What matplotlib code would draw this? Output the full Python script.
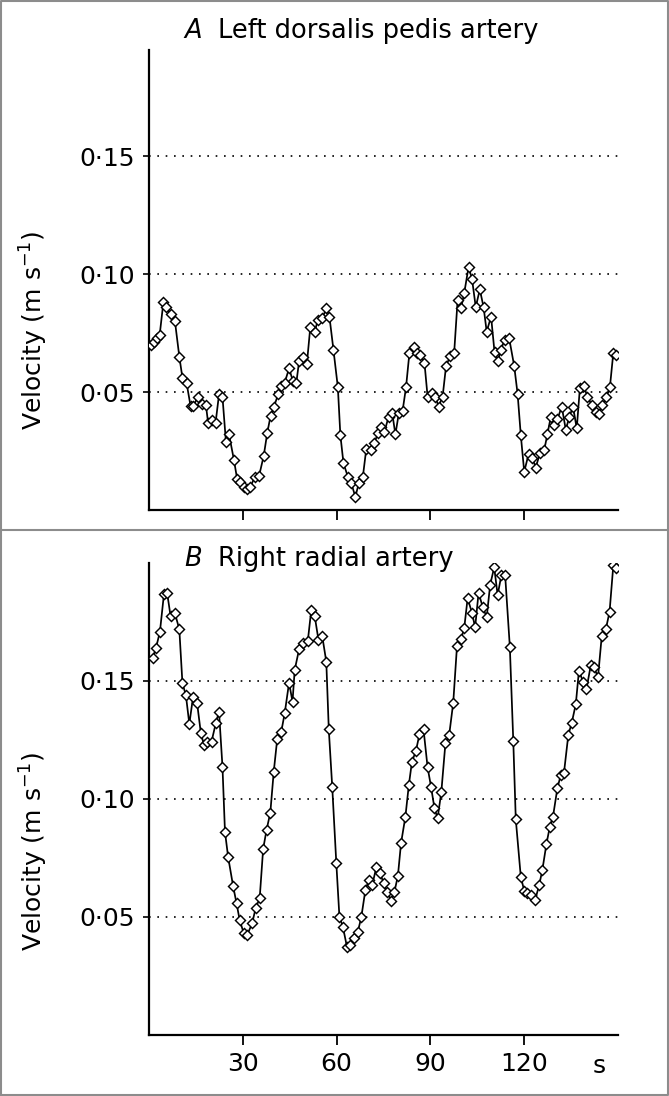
import matplotlib.pyplot as plt
from matplotlib.lines import Line2D

plt.rcParams['font.family'] = ['DejaVu Sans']

# panel A - left dorsalis pedis artery (time s, velocity m/s)
t_a = [0.6, 1.5, 2.5, 3.4, 4.6, 5.6, 6.9, 8.3, 9.7, 10.7, 12.0, 13.3, 14.1, 15.7, 16.8,
       18.2, 18.9, 20.2, 21.3, 22.4, 23.5, 24.6, 25.6, 27.2, 28.2, 29.2, 30.3, 31.4, 32.4,
       33.8, 35.2, 36.7, 37.8, 38.9, 39.9, 41.3, 42.3, 43.4, 44.8, 46.0, 47.1, 48.0, 49.2,
       50.5, 51.6, 53.0, 54.0, 55.4, 56.7, 57.7, 59.0, 60.4, 61.2, 62.2, 63.6, 64.7, 66.0,
       67.1, 68.4, 69.5, 71.0, 72.1, 73.2, 74.3, 75.3, 76.6, 77.8, 78.8, 79.9, 81.1, 82.2,
       83.3, 84.6, 85.6, 86.7, 88.1, 89.1, 90.5, 91.6, 92.6, 93.9, 95.0, 96.3, 97.6, 98.7,
       99.8, 100.8, 102.2, 103.3, 104.5, 105.8, 107.0, 108.0, 109.4, 110.5, 111.6, 112.5,
       113.7, 115.2, 116.8, 117.9, 118.9, 120.0, 121.4, 122.6, 123.7, 125.0, 126.4, 127.4,
       128.5, 129.6, 130.6, 132.0, 133.3, 134.4, 135.6, 136.8, 137.8, 139.1, 140.2, 141.6,
       142.8, 143.9, 145.0, 146.3, 147.4, 148.5, 149.5]
v_a = [0.070, 0.071, 0.073, 0.074, 0.088, 0.086, 0.083, 0.080, 0.065, 0.056, 0.054, 0.044,
       0.044, 0.048, 0.045, 0.0445, 0.037, 0.038, 0.037, 0.049, 0.048, 0.029, 0.032, 0.021,
       0.013, 0.012, 0.0096, 0.0088, 0.0096, 0.014, 0.0144, 0.023, 0.0325, 0.040, 0.0435,
       0.049, 0.0525, 0.054, 0.060, 0.0548, 0.0537, 0.063, 0.0647, 0.062, 0.0777, 0.0756,
       0.0805, 0.0812, 0.0855, 0.082, 0.0678, 0.052, 0.0318, 0.0198, 0.0141, 0.0113, 0.0056,
       0.0113, 0.0141, 0.026, 0.0254, 0.0285, 0.0325, 0.035, 0.033, 0.0395, 0.041, 0.032,
       0.041, 0.042, 0.052, 0.0667, 0.069, 0.0667, 0.0657, 0.0624, 0.048, 0.0497, 0.048,
       0.0438, 0.048, 0.061, 0.0652, 0.0667, 0.089, 0.0855, 0.0918, 0.103, 0.098, 0.086,
       0.0935, 0.086, 0.0756, 0.082, 0.067, 0.063, 0.0678, 0.072, 0.0727, 0.061, 0.049,
       0.0318, 0.0162, 0.0237, 0.0219, 0.018, 0.024, 0.0254, 0.032, 0.0395, 0.036, 0.0384,
       0.0438, 0.034, 0.0393, 0.0438, 0.0346, 0.0516, 0.0525, 0.048, 0.0445, 0.0416, 0.0407,
       0.0445, 0.048, 0.052, 0.0667, 0.0657]

# panel B - right radial artery
t_b = [1.2, 2.2, 3.5, 4.8, 5.8, 6.9, 8.3, 9.7, 10.7, 11.8, 12.9, 14.1, 15.4, 16.6, 17.6,
       18.7, 20.0, 21.4, 22.4, 23.5, 24.3, 25.3, 26.9, 28.0, 29.0, 30.3, 31.4, 33.0, 34.1,
       35.4, 36.5, 37.6, 38.8, 39.9, 41.0, 42.3, 43.4, 44.8, 45.9, 46.6, 48.0, 49.2, 50.8,
       51.9, 53.0, 54.2, 55.4, 56.7, 57.5, 58.6, 59.9, 60.9, 62.0, 63.3, 64.4, 65.5, 66.8,
       67.9, 69.2, 70.3, 71.4, 72.7, 73.9, 75.0, 76.2, 77.4, 78.5, 79.6, 80.6, 82.0, 83.1,
       84.1, 85.4, 86.5, 87.8, 89.1, 90.2, 91.3, 92.3, 93.5, 94.8, 96.0, 97.3, 98.5, 99.8,
       100.8, 101.9, 103.3, 104.3, 105.4, 106.7, 108.0, 109.1, 110.4, 111.5, 112.7, 113.9,
       115.4, 116.5, 117.3, 118.9, 120.0, 121.0, 122.1, 123.5, 124.8, 125.8, 127.1, 128.2,
       129.2, 130.6, 131.7, 132.7, 134.1, 135.2, 136.5, 137.5, 138.8, 139.9, 141.3, 142.3,
       143.6, 144.8, 146.1, 147.3, 148.5, 149.5]
v_b = [0.1596, 0.1638, 0.1709, 0.187, 0.1874, 0.1775, 0.1787, 0.1719, 0.149, 0.144, 0.1318,
       0.1433, 0.1405, 0.1278, 0.1229, 0.1243, 0.1243, 0.1323, 0.137, 0.1137, 0.0861, 0.0755,
       0.0631, 0.0558, 0.0487, 0.0431, 0.0424, 0.0473, 0.0537, 0.0579, 0.0787, 0.0869, 0.0942,
       0.1116, 0.1253, 0.1285, 0.1363, 0.1493, 0.1412, 0.1547, 0.1634, 0.1662, 0.1671, 0.1801,
       0.1775, 0.1674, 0.1691, 0.1582, 0.1295, 0.1052, 0.073, 0.0501, 0.0459, 0.0374, 0.0381,
       0.041, 0.0438, 0.0499, 0.0614, 0.0657, 0.0636, 0.071, 0.0688, 0.0643, 0.0607, 0.0569,
       0.0607, 0.0674, 0.0812, 0.0925, 0.1059, 0.1158, 0.1205, 0.1275, 0.1295, 0.1134, 0.1052,
       0.096, 0.0918, 0.1031, 0.1236, 0.1271, 0.1408, 0.1648, 0.1677, 0.1723, 0.185, 0.1789,
       0.1727, 0.1874, 0.1815, 0.177, 0.1907, 0.1982, 0.1864, 0.1949, 0.1949, 0.1645, 0.1247,
       0.0914, 0.0671, 0.0611, 0.06, 0.0593, 0.0572, 0.0636, 0.0699, 0.0809, 0.0883, 0.0925,
       0.1045, 0.1102, 0.1109, 0.1271, 0.1323, 0.1402, 0.1544, 0.1497, 0.1465, 0.1568, 0.1558,
       0.1516, 0.1691, 0.1719, 0.1794, 0.1991, 0.1977]

grid_vals = [0.05, 0.10, 0.15]
grid_labels = ['0\u00b705', '0\u00b710', '0\u00b715']
x_ticks = [30, 60, 90, 120]

fig = plt.figure(figsize=(6.69, 10.96), dpi=100)
ax_a = fig.add_axes([0.2227, 0.5347, 0.7011, 0.4197])
ax_b = fig.add_axes([0.2227, 0.0557, 0.7011, 0.4306])


def draw_panel(ax, t, v, ytop, letter, title, title_y):
    for g in grid_vals:
        ax.axhline(g, color='black', lw=1.2, ls=(0, (1, 4)), zorder=1)
    ax.plot(t, v, color='black', lw=1.25, marker='D', markersize=5.6,
            markerfacecolor='white', markeredgecolor='black', markeredgewidth=1.05, zorder=3)
    ax.set_xlim(0, 150)
    ax.set_ylim(0, ytop)
    ax.spines['top'].set_visible(False)
    ax.spines['right'].set_visible(False)
    ax.spines['left'].set_linewidth(1.6)
    ax.spines['bottom'].set_linewidth(1.6)
    ax.set_yticks(grid_vals)
    ax.set_yticklabels(grid_labels, fontsize=18)
    ax.tick_params(axis='y', length=4, width=1.2, pad=6)
    ax.set_xticks(x_ticks)
    ax.tick_params(axis='x', length=7, width=1.3, direction='out')
    ax.set_ylabel('Velocity (m s$^{-1}$)', fontsize=18)
    ax.yaxis.set_label_coords(-0.21, 0.39)
    fig.text(0.275, title_y, letter, fontsize=18.5, style='italic', va='baseline')
    fig.text(0.326, title_y, title, fontsize=18.5, va='baseline')


draw_panel(ax_a, t_a, v_a, 0.195, 'A', 'Left dorsalis pedis artery', 0.9653)
draw_panel(ax_b, t_b, v_b, 0.200, 'B', 'Right radial artery', 0.4835)

ax_a.set_xticklabels([])
ax_b.set_xticklabels([str(x) for x in x_ticks], fontsize=18)
ax_b.tick_params(axis='x', pad=5)
ax_b.text(144, -0.008, 's', fontsize=18, ha='center', va='top')

# grey frame and panel divider
grey = '#8c8c8c'
fig.add_artist(Line2D([0.001, 0.999, 0.999, 0.001, 0.001], [0.001, 0.001, 0.999, 0.999, 0.001],
                      color=grey, lw=1.5))
fig.add_artist(Line2D([0, 1], [0.5164, 0.5164], color=grey, lw=1.5))

plt.savefig('out.png', dpi=100)
